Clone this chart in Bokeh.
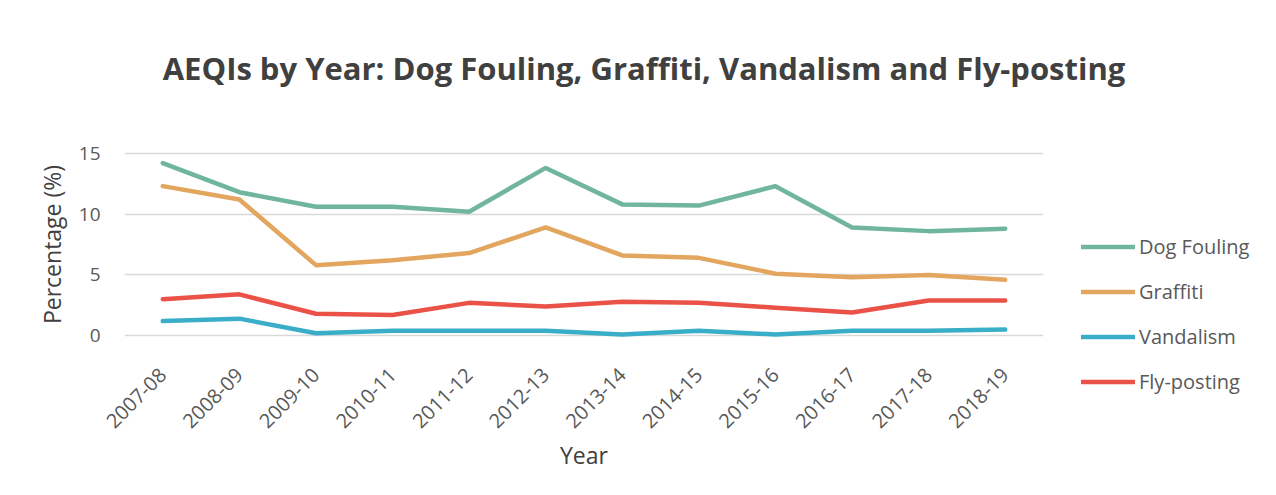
import math
from bokeh.plotting import figure
from bokeh.layouts import column, row
from bokeh.models import Legend, LegendItem, Label, Range1d, FactorRange, FixedTicker
from bokeh.embed import file_html
from bokeh.resources import INLINE

years = ["2007-08", "2008-09", "2009-10", "2010-11", "2011-12", "2012-13",
         "2013-14", "2014-15", "2015-16", "2016-17", "2017-18", "2018-19"]
dog_fouling = [14.2, 11.8, 10.6, 10.6, 10.2, 13.8, 10.8, 10.7, 12.3, 8.9, 8.6, 8.8]
graffiti = [12.3, 11.2, 5.8, 6.2, 6.8, 8.9, 6.6, 6.4, 5.1, 4.8, 5.0, 4.6]
vandalism = [1.2, 1.4, 0.2, 0.4, 0.4, 0.4, 0.1, 0.4, 0.1, 0.4, 0.4, 0.5]
fly_posting = [3.0, 3.4, 1.8, 1.7, 2.7, 2.4, 2.8, 2.7, 2.3, 1.9, 2.9, 2.9]
y_ticks = [0, 5, 10, 15]
title_text = "AEQIs by Year: Dog Fouling, Graffiti, Vandalism and Fly-posting"

colors = {"Dog Fouling": "#6FB69C", "Graffiti": "#E3A65E",
          "Vandalism": "#3AAEC8", "Fly-posting": "#EB5247"}
series = [("Dog Fouling", dog_fouling), ("Graffiti", graffiti),
          ("Vandalism", vandalism), ("Fly-posting", fly_posting)]

# ---- title strip ----
tf = figure(width=1260, height=100, x_range=Range1d(0, 1), y_range=Range1d(0, 1),
            x_axis_location=None, y_axis_location=None,
            output_backend="svg", toolbar_location=None, min_border=0)
tf.outline_line_color = None
tf.background_fill_color = "white"
tf.border_fill_color = "white"
tf.grid.visible = False
tf.add_layout(Label(x=643.5, y=33, x_units="screen", y_units="screen",
                    text=title_text, text_font="Open Sans", text_font_style="bold",
                    text_font_size="31px", text_color="#404040",
                    text_align="center", text_baseline="alphabetic"))

# ---- main chart ----
p = figure(frame_width=919, frame_height=186,
           x_range=FactorRange(*years, range_padding=0),
           y_range=Range1d(-0.15, 15.15),
           output_backend="svg", toolbar_location=None,
           min_border_left=124, min_border_right=0,
           min_border_top=51, min_border_bottom=142)
p.outline_line_color = None
p.background_fill_color = "white"
p.border_fill_color = "white"
p.xgrid.grid_line_color = None
p.ygrid.grid_line_color = "#d9d9d9"
p.ygrid.grid_line_width = 1.5

p.yaxis.ticker = FixedTicker(ticks=y_ticks)
for ax in (p.xaxis[0], p.yaxis[0]):
    ax.axis_line_color = None
    ax.major_tick_line_color = None
    ax.minor_tick_line_color = None
    ax.major_tick_out = 0
    ax.major_tick_in = 0
    ax.major_label_text_font = "Open Sans"
    ax.major_label_text_color = "#595959"
    ax.axis_label_text_font = "Open Sans"
    ax.axis_label_text_font_size = "23px"
    ax.axis_label_text_font_style = "normal"
    ax.axis_label_text_color = "#404040"

p.xaxis.major_label_text_font_size = "20px"
p.yaxis.major_label_text_font_size = "19px"
p.xaxis.major_label_orientation = math.pi / 4
p.xaxis.major_label_standoff = 34
p.xaxis.axis_label = "Year"
p.xaxis.axis_label_standoff = 2
p.yaxis.major_label_standoff = 24
p.yaxis.axis_label = "Percentage (%)"
p.yaxis.axis_label_standoff = 8

items = []
for name, vals in series:
    r = p.line(years, vals, line_width=4.5, line_color=colors[name],
               line_cap="round", line_join="round")
    items.append(LegendItem(label=name, renderers=[r]))

legend = Legend(items=items, location=(38, -58), padding=0, margin=0,
                border_line_color=None, background_fill_alpha=0,
                glyph_width=54, glyph_height=27, label_height=27,
                spacing=18, label_standoff=4,
                label_text_font="Open Sans", label_text_font_size="20px",
                label_text_color="#595959")
p.add_layout(legend, "right")

layout = column(tf, row(p, spacing=0), spacing=0)
open("out.html", "w").write(file_html(layout, INLINE))
